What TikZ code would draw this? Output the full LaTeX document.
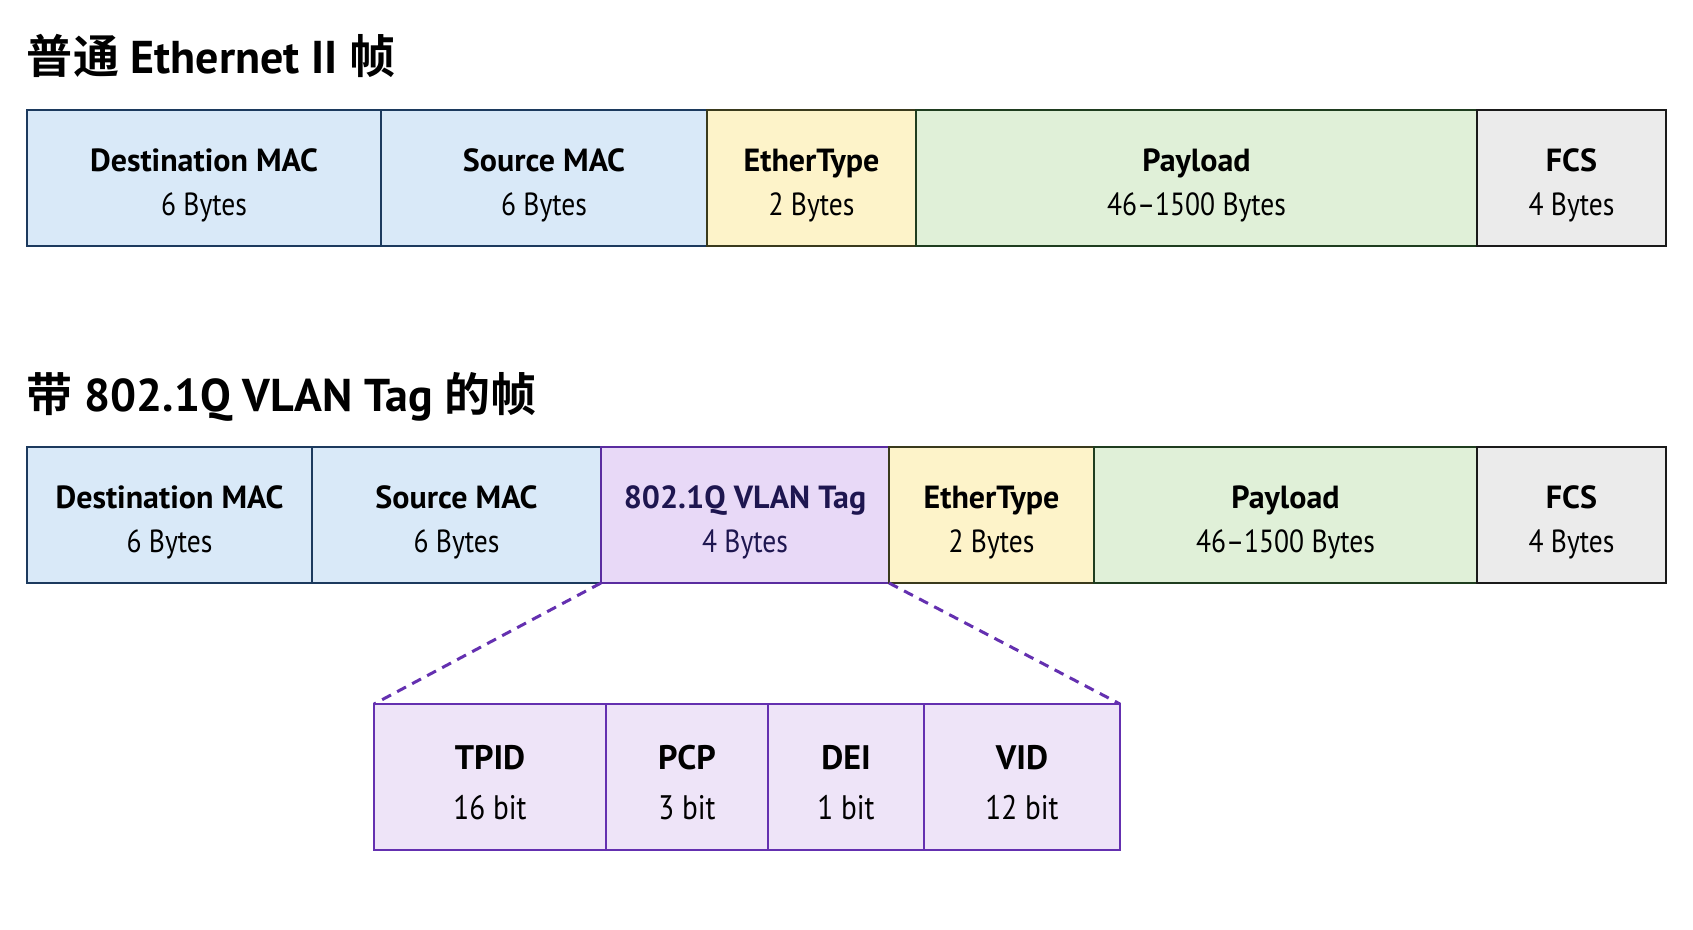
\documentclass[tikz,border=0pt]{standalone}
\usepackage{fontspec}
\setmainfont{PT Sans}[UprightFeatures={FakeStretch=0.86}]
\newfontfamily\cjk{Noto Sans CJK SC}[BoldFont={Noto Sans CJK SC Bold}]
\usetikzlibrary{positioning}

\definecolor{macfill}{HTML}{D9E9F8}
\definecolor{macdraw}{HTML}{1C3A5E}
\definecolor{typefill}{HTML}{FDF3C9}
\definecolor{typedraw}{HTML}{3A3A1C}
\definecolor{payfill}{HTML}{E0F0D8}
\definecolor{paydraw}{HTML}{1F3D1F}
\definecolor{fcsfill}{HTML}{EBEBEB}
\definecolor{fcsdraw}{HTML}{1A1A1A}
\definecolor{tagfill}{HTML}{E8D9F7}
\definecolor{tagdraw}{HTML}{5A2CA0}
\definecolor{subfill}{HTML}{EEE4F8}
\definecolor{subdraw}{HTML}{6430B0}
\definecolor{tagtext}{HTML}{1E1650}

% two-line field text: bold name, size below
\newcommand{\fld}[2]{\raisebox{-7pt}[\height][\depth]{\begin{tabular}{@{}c@{}}\textbf{#1}\\#2\end{tabular}}}

\begin{document}
\begin{tikzpicture}[
  x=1pt, y=-1pt,
  every node/.style={inner sep=0pt, outer sep=0pt},
  cell/.style={draw, line width=2.8pt, minimum height=136pt,
    font=\fontsize{32}{44}\selectfont},
  mac/.style={cell, fill=macfill, draw=macdraw},
  etype/.style={cell, fill=typefill, draw=typedraw},
  pay/.style={cell, fill=payfill, draw=paydraw},
  fcs/.style={cell, fill=fcsfill, draw=fcsdraw},
  tag/.style={cell, fill=tagfill, draw=tagdraw, text=tagtext},
  subcell/.style={draw=subdraw, fill=subfill, line width=2.8pt, minimum height=146pt,
    font=\fontsize{34}{50}\selectfont},
  zoomline/.style={draw=subdraw, line width=3pt, dash pattern=on 10pt off 7pt},
  title/.style={anchor=base west, font=\fontsize{46}{54}\selectfont\bfseries}
]
  \useasboundingbox (0,0) rectangle (1693,929);

  % Plain frame
  \node[title] (title1) at (27,73) {{\cjk\bfseries 普通} Ethernet II {\cjk\bfseries 帧}};

  \node[mac, minimum width=354pt, anchor=north west] (dst) at (27,110)
    {\fld{Destination MAC}{6 Bytes}};
  \node[mac, minimum width=326pt, right=0pt of dst] (src) {\fld{Source MAC}{6 Bytes}};
  \node[etype, minimum width=209pt, right=0pt of src] (type) {\fld{EtherType}{2 Bytes}};
  \node[pay, minimum width=561pt, right=0pt of type] (pay) {\fld{Payload}{46--1500 Bytes}};
  \node[fcs, minimum width=189pt, right=0pt of pay] (fcs) {\fld{FCS}{4 Bytes}};

  % Tagged frame
  \node[title] (title2) at (27,411) {{\cjk\bfseries 带} 802.1Q VLAN Tag {\cjk\bfseries 的帧}};

  \node[mac, minimum width=285pt, anchor=north west] (vdst) at (27,447)
    {\fld{Destination MAC}{6 Bytes}};
  \node[mac, minimum width=289pt, right=0pt of vdst] (vsrc) {\fld{Source MAC}{6 Bytes}};
  \node[tag, minimum width=288pt, right=0pt of vsrc] (vtag) {\fld{802.1Q VLAN Tag}{4 Bytes}};
  \node[etype, minimum width=205pt, right=0pt of vtag] (vtype) {\fld{EtherType}{2 Bytes}};
  \node[pay, minimum width=383pt, right=0pt of vtype] (vpay) {\fld{Payload}{46--1500 Bytes}};
  \node[fcs, minimum width=189pt, right=0pt of vpay] (vfcs) {\fld{FCS}{4 Bytes}};

  % Tag fields
  \node[subcell, minimum width=232pt, anchor=north west] (tpid) at (374,704)
    {\fld{TPID}{16 bit}};
  \node[subcell, minimum width=162pt, right=0pt of tpid] (pcp) {\fld{PCP}{3 bit}};
  \node[subcell, minimum width=156pt, right=0pt of pcp] (dei) {\fld{DEI}{1 bit}};
  \node[subcell, minimum width=196pt, right=0pt of dei] (vid) {\fld{VID}{12 bit}};

  \draw[zoomline] (vtag.south west) -- (tpid.north west);
  \draw[zoomline] (vtag.south east) -- (vid.north east);
\end{tikzpicture}
\end{document}
